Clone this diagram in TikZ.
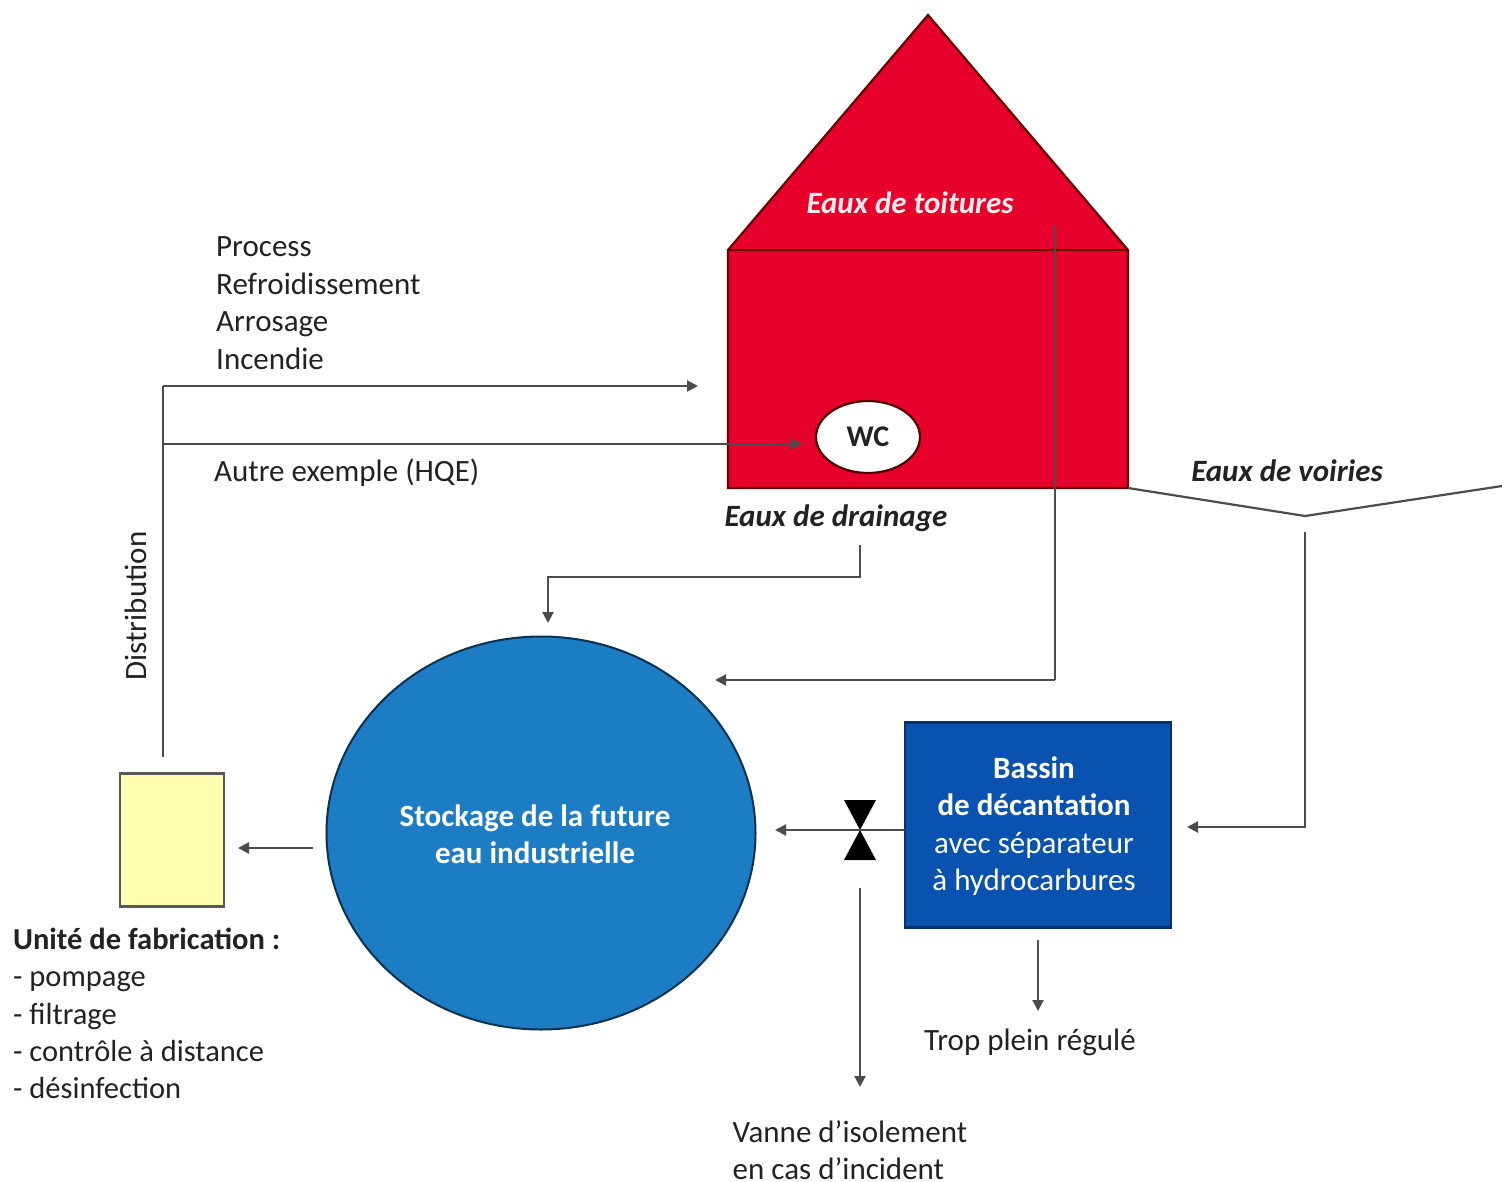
\documentclass[tikz,border=0pt]{standalone}
\usepackage{fontspec}
\setmainfont{Carlito}
\usetikzlibrary{arrows.meta,shapes.geometric}
\definecolor{housered}{HTML}{E8002D}
\definecolor{tankblue}{HTML}{1C7CC4}
\definecolor{boxblue}{HTML}{0A52B0}
\definecolor{unityellow}{HTML}{FFFFB0}
\definecolor{ink}{HTML}{222222}
\begin{document}
\begin{tikzpicture}[x=1pt,y=-1pt,
  conn/.style={draw=black!70, line width=2.2pt},
  arr/.style={conn,-{Triangle[length=11pt,width=11pt]}},
  lbl/.style={font=\fontsize{31}{37.5}\selectfont, text=ink, inner sep=0pt, align=left},
  ital/.style={font=\fontsize{31}{36}\selectfont\bfseries\itshape, inner sep=0pt},
  wlbl/.style={font=\fontsize{31}{37.5}\selectfont, text=white, inner sep=0pt, align=center},
]
\useasboundingbox (0,0) rectangle (1502,1181);
\fill[white] (0,0) rectangle (1502,1181);

% house
\coordinate (apex) at (928,15);
\coordinate (eaveL) at (728,250);
\coordinate (eaveR) at (1128,250);
\coordinate (baseL) at (728,488);
\coordinate (baseR) at (1128,488);
\draw[fill=housered, draw=black!60!red, line width=2.2pt] (eaveL) -- (apex) -- (eaveR) -- (baseR) -- (baseL) -- cycle;
\draw[draw=black!60!red, line width=2.2pt] (eaveL) -- (eaveR);
\node[ital, text=white!92!red] (toit) at (910,203) {Eaux de toitures};
\node[ellipse, draw=black!70!red, fill=white, line width=2.2pt, minimum width=104pt, minimum height=72pt, inner sep=0pt, font=\fontsize{30}{34}\selectfont\bfseries, text=ink] (wc) at (868,437) {WC};

% roof water drop line
\coordinate (roofdrop) at (1055,225);
\coordinate (roofcorner) at (1055,680);
\coordinate (roofend) at (715,680);
\draw[conn] (roofdrop) -- (roofcorner);
\draw[arr] (roofcorner) -- (roofend);

% drainage
\node[ital, text=ink] (drain) at (836,518) {Eaux de drainage};
\coordinate (drainstart) at (860,545);
\coordinate (drainend) at (548,623);
\draw[arr] (drainstart) |- (700,577) -| (drainend);

% tank
\node[ellipse, draw=black!60!tankblue, fill=tankblue, line width=2pt, minimum width=429pt, minimum height=393pt] (tank) at (541,833) {};
\node[wlbl, font=\fontsize{31}{37.5}\selectfont\bfseries] (tanktxt) at (535,834) {Stockage de la future\\eau industrielle};

% unit box
\node[rectangle, draw=black!65, fill=unityellow, line width=2.2pt, minimum width=104pt, minimum height=133pt] (unit) at (172,840) {};
\coordinate (tankout) at (313,848);
\coordinate (unitin) at (238,848);
\draw[arr] (tankout) -- (unitin);
\node[lbl, anchor=north west, font=\fontsize{30.5}{37.3}\selectfont] (unittxt) at (13,928) {\textbf{Unité de fabrication :}\\- pompage\\- filtrage\\- contrôle à distance\\- désinfection};

% distribution
\coordinate (distbot) at (163,757);
\coordinate (distcorner) at (163,386);
\coordinate (disttop) at (698,386);
\coordinate (hqestart) at (163,444);
\coordinate (hqeend) at (802,444);
\draw[conn] (distbot) -- (distcorner);
\draw[arr] (distcorner) -- (disttop);
\draw[arr] (hqestart) -- (hqeend);
\node[lbl, rotate=90] (dist) at (136,606) {Distribution};
\node[lbl, anchor=west] (uses) at (216,303) {Process\\Refroidissement\\Arrosage\\Incendie};
\node[lbl, anchor=west] (hqe) at (214,473) {Autre exemple (HQE)};

% basin
\node[rectangle, draw=black!40!boxblue, fill=boxblue, line width=2.2pt, minimum width=266pt, minimum height=205pt] (basin) at (1038,825) {};
\node[wlbl] (basintxt) at (1034,826) {\textbf{Bassin}\\\textbf{de décantation}\\avec séparateur\\à hydrocarbures};

% valve
\coordinate (valve) at (860,830);
\fill[black] (844,800) -- (876,800) -- (valve) -- cycle;
\fill[black] (844,860) -- (876,860) -- (valve) -- cycle;
\coordinate (basinout) at (905,830);
\coordinate (tankin) at (775,830);
\draw[arr] (basinout) -- (tankin);
\coordinate (valvedown) at (860,888);
\coordinate (valveend) at (860,1087);
\draw[arr] (valvedown) -- (valveend);
\node[lbl] (vanne) at (850,1150) {Vanne d’isolement\\en cas d’incident};

% overflow
\coordinate (overstart) at (1038,940);
\coordinate (overend) at (1038,1011);
\draw[arr] (overstart) -- (overend);
\node[lbl] (trop) at (1030,1042) {Trop plein régulé};

% roads
\coordinate (roadlow) at (1305,516);
\coordinate (roadR) at (1502,486);
\draw[conn] (baseR) -- (roadlow) -- (roadR);
\node[ital, text=ink] (voiries) at (1287,471) {Eaux de voiries};
\coordinate (roadstart) at (1305,532);
\coordinate (roadend) at (1187,827);
\draw[arr] (roadstart) |- (roadend);
\end{tikzpicture}
\end{document}
